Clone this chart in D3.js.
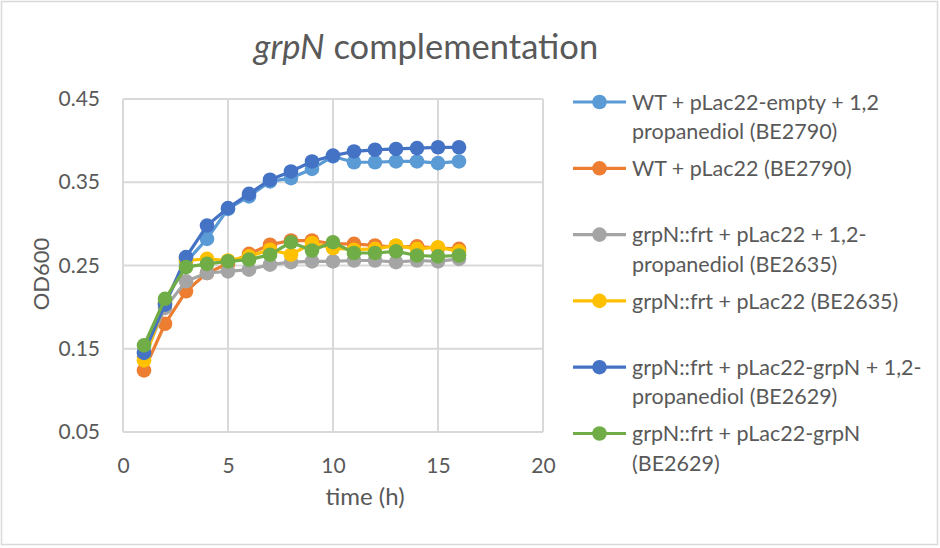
<!DOCTYPE html>
<html>
<head>
<meta charset="utf-8">
<script src="https://cdn.jsdelivr.net/npm/d3@7"></script>
<style>
  html, body { margin: 0; padding: 0; background: #fff; }
  svg text { font-family: Lato, "Open Sans", sans-serif; fill: #595959; }
</style>
</head>
<body>
<svg id="chart" width="940" height="548"></svg>
<script>
// Sampling times (h)
const hours = [1, 2, 3, 4, 5, 6, 7, 8, 9, 10, 11, 12, 13, 14, 15, 16];

// OD600 readings per strain / condition
const wtEmptyPdo = [0.146, 0.205, 0.254, 0.282, 0.318, 0.333, 0.351, 0.355, 0.366, 0.381, 0.374, 0.374, 0.375, 0.375, 0.373, 0.375];
const wtPlac     = [0.124, 0.180, 0.219, 0.241, 0.252, 0.264, 0.275, 0.280, 0.280, 0.276, 0.276, 0.274, 0.272, 0.273, 0.271, 0.270];
const mutPdo     = [0.140, 0.199, 0.231, 0.241, 0.243, 0.245, 0.251, 0.254, 0.255, 0.255, 0.256, 0.256, 0.254, 0.256, 0.255, 0.258];
const mutPlac    = [0.136, 0.206, 0.256, 0.258, 0.256, 0.261, 0.269, 0.263, 0.277, 0.271, 0.269, 0.270, 0.274, 0.270, 0.272, 0.267];
const compPdo    = [0.145, 0.203, 0.260, 0.298, 0.319, 0.336, 0.353, 0.363, 0.375, 0.382, 0.387, 0.389, 0.390, 0.391, 0.392, 0.392];
const compPlac   = [0.154, 0.210, 0.248, 0.252, 0.255, 0.257, 0.263, 0.278, 0.268, 0.278, 0.265, 0.265, 0.267, 0.262, 0.261, 0.262];

// Legend labels (each entry may wrap onto two lines)
const seriesLabels = [
  ["WT + pLac22-empty + 1,2", "propanediol (BE2790)"],
  ["WT + pLac22 (BE2790)"],
  ["grpN::frt + pLac22 + 1,2-", "propanediol (BE2635)"],
  ["grpN::frt + pLac22 (BE2635)"],
  ["grpN::frt + pLac22-grpN + 1,2-", "propanediol (BE2629)"],
  ["grpN::frt + pLac22-grpN", "(BE2629)"]
];
const seriesValues = [wtEmptyPdo, wtPlac, mutPdo, mutPlac, compPdo, compPlac];
const seriesColors = ["#5B9BD5", "#ED7D31", "#A5A5A5", "#FFC000", "#4472C4", "#70AD47"];

const xTicks = [0, 5, 10, 15, 20];
const yTicks = [0.05, 0.15, 0.25, 0.35, 0.45];

const svg = d3.select("#chart");

// outer chart frame
svg.append("rect")
  .attr("x", 1.5).attr("y", 1.5).attr("width", 936).attr("height", 543)
  .attr("fill", "#fff").attr("stroke", "#d9d9d9").attr("stroke-width", 1.5);

const x = d3.scaleLinear().domain([0, 20]).range([123, 543]);
const y = d3.scaleLinear().domain([0.05, 0.45]).range([432, 99]);

// gridlines
const grid = svg.append("g").attr("stroke", "#d9d9d9").attr("stroke-width", 2);
grid.selectAll("line.h").data(yTicks).join("line")
  .attr("x1", x(0)).attr("x2", x(20))
  .attr("y1", d => y(d)).attr("y2", d => y(d));
grid.selectAll("line.v").data(xTicks).join("line")
  .attr("y1", y(0.05)).attr("y2", y(0.45))
  .attr("x1", d => x(d)).attr("x2", d => x(d));

// axes (labels only, lines come from the grid)
const yAxis = svg.append("g").attr("transform", `translate(${x(0) - 20},0)`)
  .call(d3.axisLeft(y).tickValues(yTicks).tickFormat(d3.format(".2f")).tickSize(0));
const xAxis = svg.append("g").attr("transform", `translate(0,${y(0.05) + 22})`)
  .call(d3.axisBottom(x).tickValues(xTicks).tickFormat(d3.format("d")).tickSize(0));
[yAxis, xAxis].forEach(a => {
  a.select(".domain").remove();
  a.selectAll("text").style("font-size", "21px").attr("fill", "#595959");
});
xAxis.selectAll("text").attr("dy", "0.71em").attr("y", 4);

// axis titles
svg.append("text")
  .attr("x", 365).attr("y", 505)
  .attr("text-anchor", "middle").style("font-size", "24px")
  .text("time (h)");
svg.append("text")
  .attr("transform", "translate(49,274) rotate(-90)")
  .attr("text-anchor", "middle").style("font-size", "22px")
  .text("OD600");

// chart title
const title = svg.append("text")
  .attr("x", 426).attr("y", 59)
  .attr("text-anchor", "middle").style("font-size", "34.5px");
title.append("tspan").attr("font-style", "italic").text("grpN");
title.append("tspan").text(" complementation");

// series lines and markers
const line = d3.line().x((d, i) => x(hours[i])).y(d => y(d));
seriesValues.forEach((vals, s) => {
  const g = svg.append("g");
  g.append("path").datum(vals)
    .attr("d", line).attr("fill", "none")
    .attr("stroke", seriesColors[s]).attr("stroke-width", 3.2)
    .attr("stroke-linejoin", "round");
  g.selectAll("circle").data(vals).join("circle")
    .attr("cx", (d, i) => x(hours[i])).attr("cy", d => y(d))
    .attr("r", 7.3).attr("fill", seriesColors[s]);
});

// legend
const legend = svg.append("g");
seriesLabels.forEach((lines, s) => {
  const top = 102 + s * 66.3;
  const g = legend.append("g");
  g.append("line")
    .attr("x1", 573).attr("x2", 626).attr("y1", top).attr("y2", top)
    .attr("stroke", seriesColors[s]).attr("stroke-width", 3.2);
  g.append("circle").attr("cx", 599.5).attr("cy", top).attr("r", 7.3)
    .attr("fill", seriesColors[s]);
  lines.forEach((t, k) => {
    g.append("text")
      .attr("x", 632).attr("y", top + k * 29.3)
      .attr("dy", "0.36em").style("font-size", "21.5px")
      .text(t);
  });
});
</script>
</body>
</html>
